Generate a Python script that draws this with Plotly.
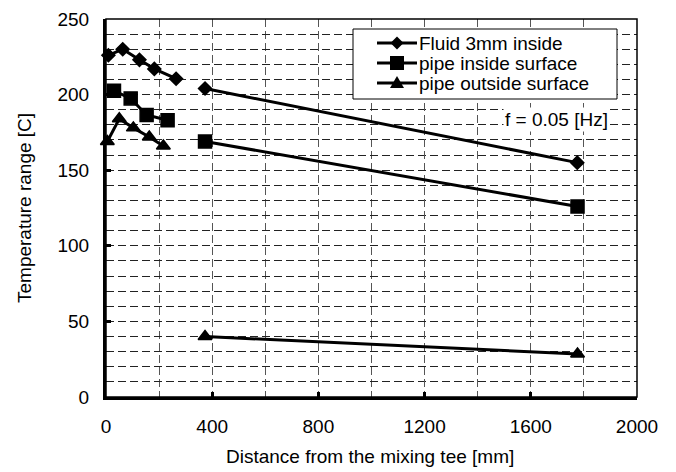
import plotly.graph_objects as go

# Data (None separates the near-tee group from the far group)
fluid_x = [9, 63, 126, 182, 264, None, 373, 1775]
fluid_y = [226, 230, 223, 217, 210.5, None, 204, 155]
inner_x = [30, 93, 153, 232, None, 373, 1776]
inner_y = [202.5, 197.5, 186.5, 183, None, 169, 126]
outer_x = [5, 50, 103, 163, 216, None, 373, 1776]
outer_y = [169, 184, 178, 172, 166, None, 40, 28.5]

series_names = ["Fluid 3mm inside", "pipe inside surface", "pipe outside surface"]
x_ticks = [0, 400, 800, 1200, 1600, 2000]
y_ticks = [0, 50, 100, 150, 200, 250]
x_title = "Distance from the mixing tee [mm]"
y_title = "Temperature range [C]"

FONT = "Liberation Sans, Arial, sans-serif"
OFF = 8  # page body margin
W, H = 676 - OFF, 472 - OFF
# plot area in window pixels: x 106..637, y 19..397
PL, PR, PT, PB = 106, 637, 19, 397
ML, MT = PL - OFF, PT - OFF
MR, MB = W - (PR - OFF), H - (PB - OFF)
PW, PH = PR - PL, PB - PT


def px(xp):
    return (xp - PL) / PW


def py(yp):
    return (PB - yp) / PH


fig = go.Figure()
styles = [("diamond", 10), ("square", 13), ("triangle-up", 12)]
for name, xs, ys, (sym, sz) in zip(series_names, [fluid_x, inner_x, outer_x],
                                   [fluid_y, inner_y, outer_y], styles):
    fig.add_trace(go.Scatter(
        x=xs, y=ys, name=name, mode="lines+markers",
        connectgaps=False, showlegend=False, cliponaxis=False,
        line=dict(color="black", width=3),
        marker=dict(symbol=sym, size=sz, color="black",
                    line=dict(color="black", width=1.5)),
    ))

fig.update_xaxes(
    range=[0, 2000], tickvals=x_ticks, ticktext=[str(v) for v in x_ticks],
    ticks="inside", ticklen=5, tickwidth=3, tickcolor="black",
    showline=True, linecolor="black", linewidth=3,
    showgrid=True, gridcolor="#555", gridwidth=1, griddash="8px,4px",
    minor=dict(dtick=200, showgrid=True, gridcolor="#555", gridwidth=1, griddash="8px,4px"),
    tickfont=dict(size=19, color="black", family=FONT),
    ticklabelstandoff=10,
    zeroline=False, automargin=False,
)
fig.update_yaxes(
    range=[0, 250], tickvals=y_ticks, ticktext=[str(v) for v in y_ticks],
    ticks="inside", ticklen=5, tickwidth=3, tickcolor="black",
    showline=True, linecolor="black", linewidth=3,
    showgrid=True, gridcolor="#222", gridwidth=1, griddash="8px,4px",
    minor=dict(dtick=10, showgrid=True, gridcolor="#222", gridwidth=1, griddash="8px,4px"),
    tickfont=dict(size=19, color="black", family=FONT),
    ticklabelstandoff=10,
    zeroline=False, automargin=False,
)

# axis titles
fig.add_annotation(text=x_title, xref="paper", yref="paper",
                   x=px(370), y=py(456), xanchor="center", yanchor="middle",
                   showarrow=False, font=dict(size=19, color="black", family=FONT))
fig.add_annotation(text=y_title, xref="paper", yref="paper", textangle=-90,
                   x=px(24), y=py(208), xanchor="center", yanchor="middle",
                   showarrow=False, font=dict(size=19, color="black", family=FONT))

# plot border (top / right)
fig.add_shape(type="rect", xref="paper", yref="paper", x0=0, y0=0, x1=1, y1=1,
              line=dict(color="black", width=1.5), layer="above")

# custom legend box
fig.add_shape(type="rect", xref="paper", yref="paper",
              x0=px(353), x1=px(617), y0=py(99), y1=py(29),
              line=dict(color="black", width=1), fillcolor="white", layer="above")
marker_paths = [
    "M0,6.5 L6.5,0 L0,-6.5 L-6.5,0 Z",
    "M-7,-7 L7,-7 L7,7 L-7,7 Z",
    "M-7,-5 L7,-5 L0,7 Z",
]
for i, name in enumerate(series_names):
    yc = 43 + 20 * i
    fig.add_shape(type="line", xref="paper", yref="paper",
                  x0=px(377), x1=px(417), y0=py(yc), y1=py(yc),
                  line=dict(color="black", width=3), layer="above")
    fig.add_shape(type="path", xref="paper", yref="paper",
                  xsizemode="pixel", ysizemode="pixel",
                  xanchor=px(397), yanchor=py(yc),
                  path=marker_paths[i], fillcolor="black",
                  line=dict(color="black", width=0), layer="above")
    fig.add_annotation(text=name, xref="paper", yref="paper",
                       x=px(418), y=py(yc), xanchor="left", yanchor="middle",
                       showarrow=False, borderpad=0,
                       font=dict(size=19, color="black", family=FONT))

fig.add_annotation(text="f = 0.05 [Hz]", xref="paper", yref="paper",
                   x=px(610), y=py(119), xanchor="right", yanchor="middle",
                   showarrow=False, bgcolor="white", borderpad=1,
                   font=dict(size=19, color="black", family=FONT))

fig.update_layout(
    width=W, height=H,
    margin=dict(l=ML, r=MR, t=MT, b=MB, autoexpand=False),
    paper_bgcolor="white", plot_bgcolor="white",
    font=dict(family=FONT, color="black"),
    showlegend=False,
)

fig.write_html("out.html")
